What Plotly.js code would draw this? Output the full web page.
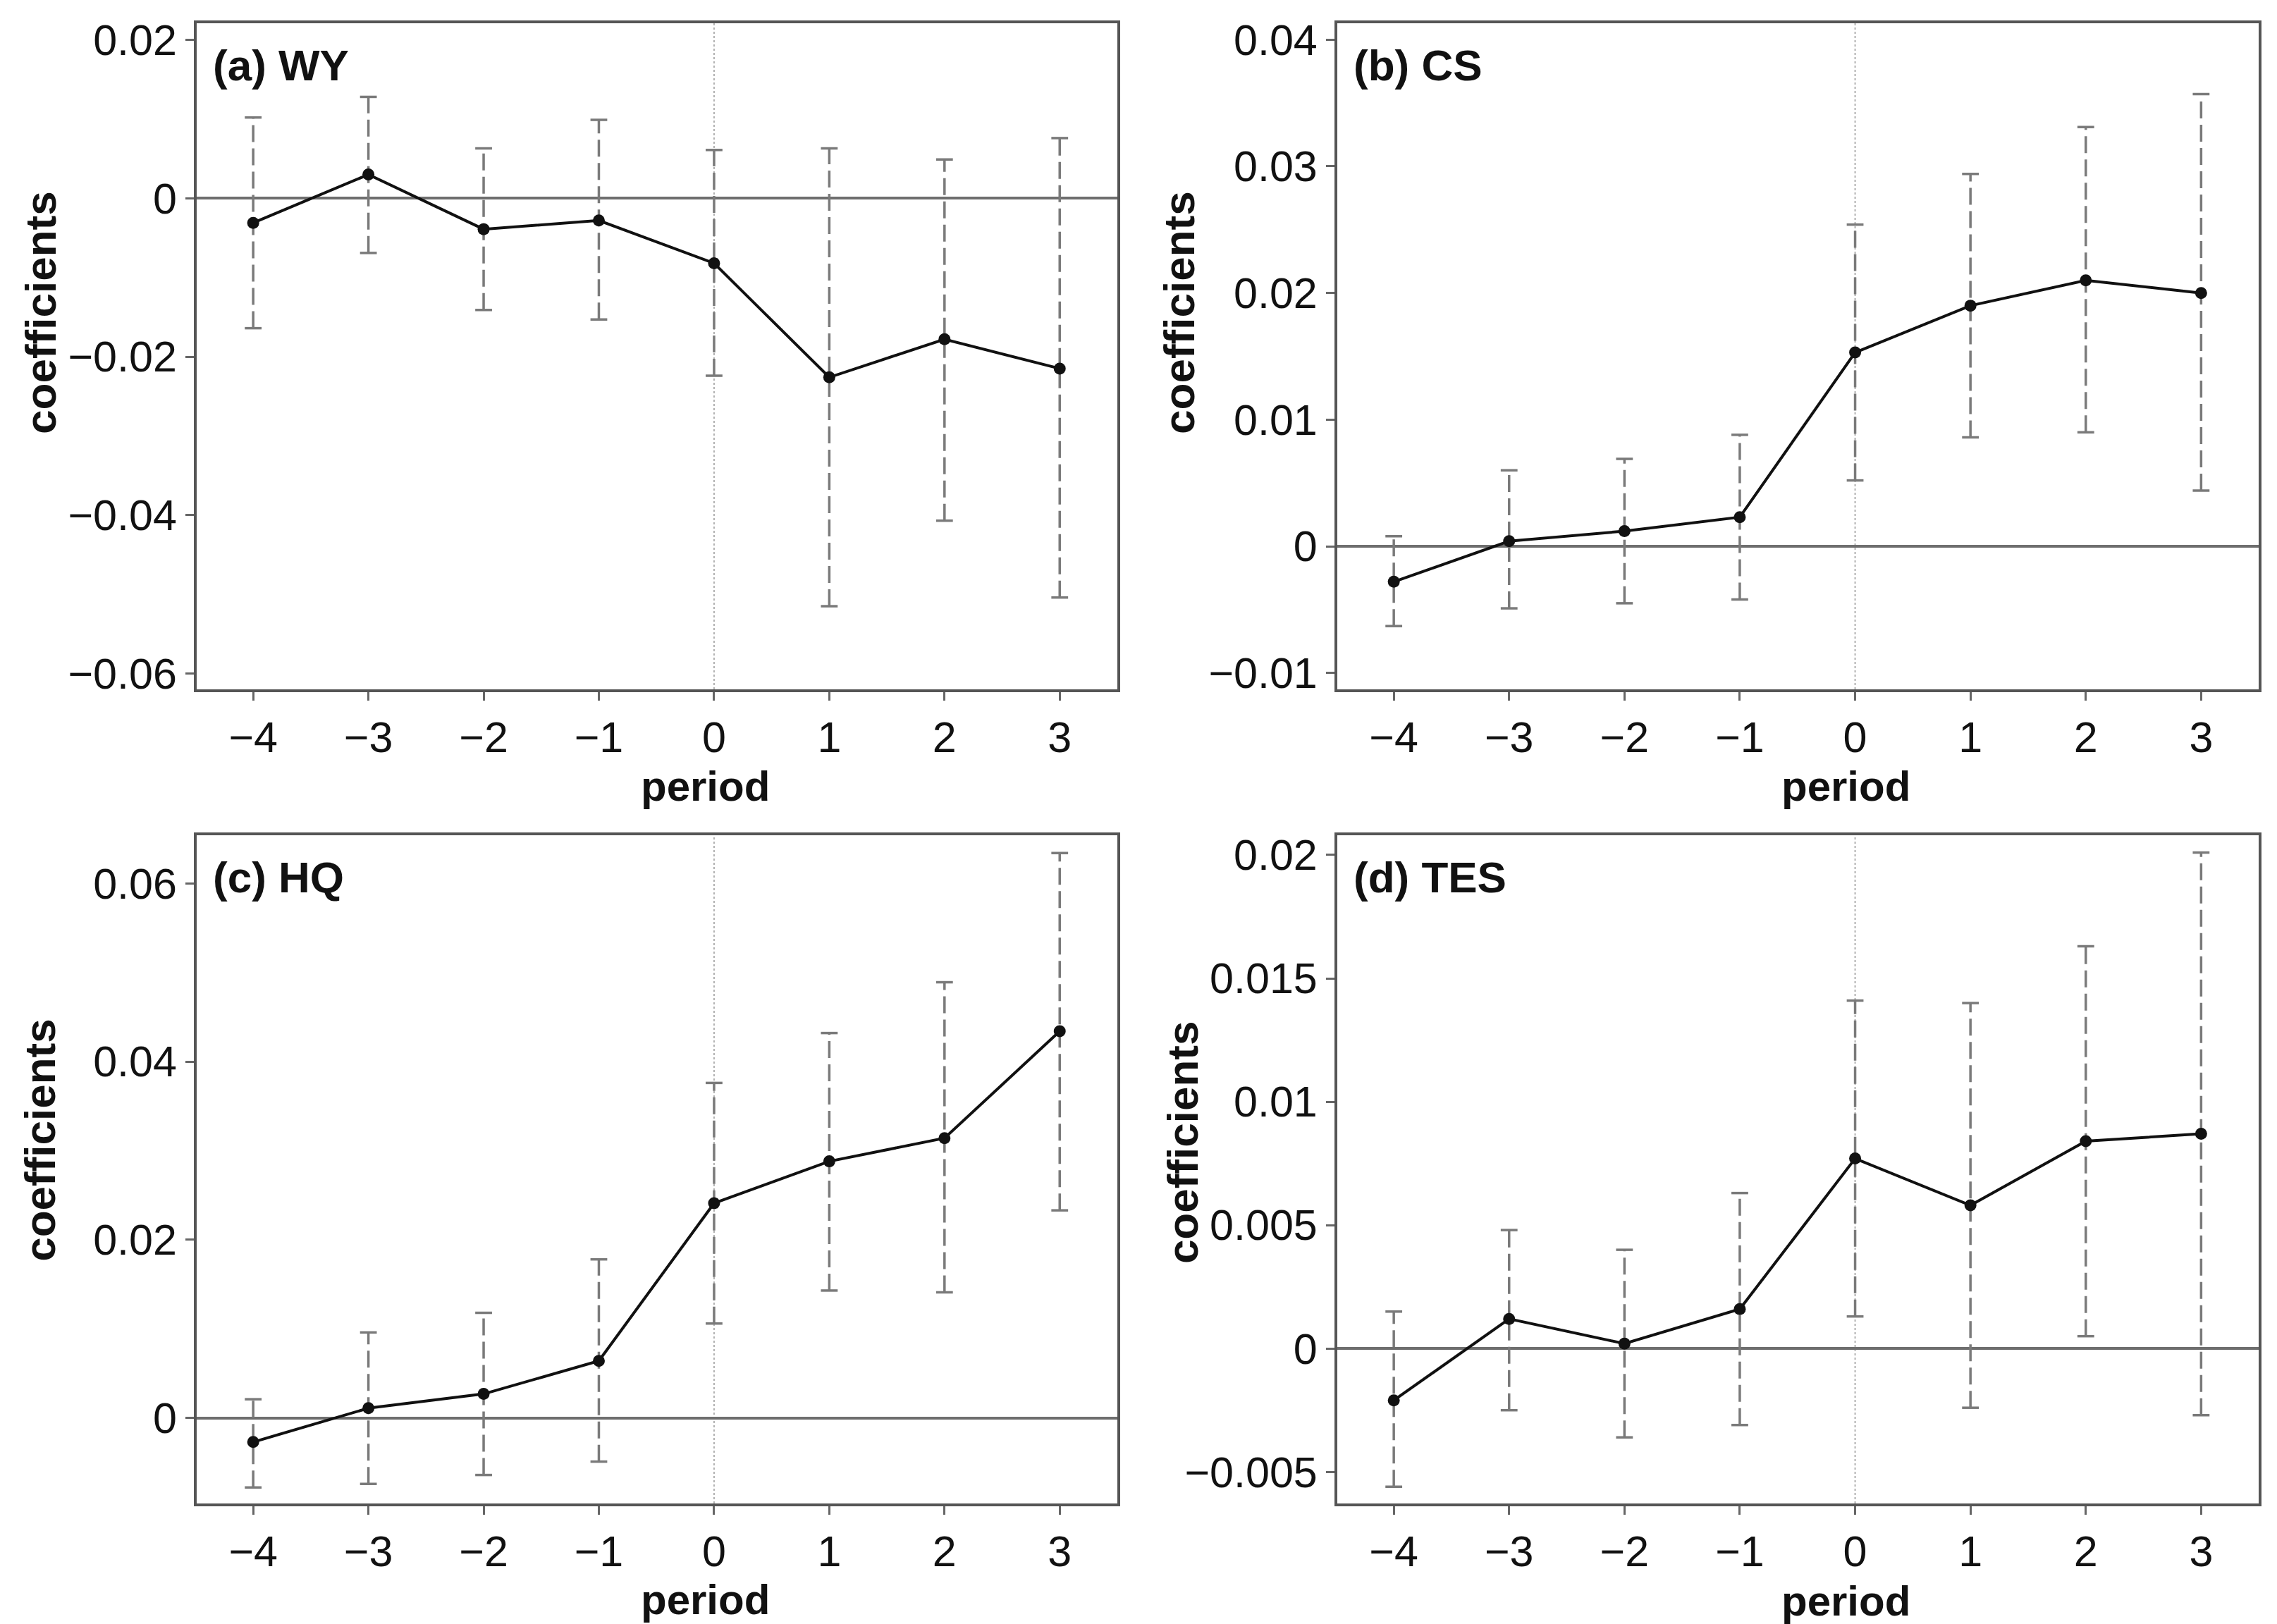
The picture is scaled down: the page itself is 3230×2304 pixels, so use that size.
<!DOCTYPE html>
<html>
<head>
<meta charset="utf-8">
<script src="https://cdn.plot.ly/plotly-3.0.1.min.js"></script>
<style>
  body { margin: 0; background: #fff; }
  #chart { width: 3230px; height: 2304px; }
</style>
</head>
<body>
<div id="chart"></div>
<script>
// event-study periods
const periods = [-4, -3, -2, -1, 0, 1, 2, 3];

// (a) WY
const wyCoef  = [-0.0031, 0.0030, -0.0039, -0.0028, -0.0082, -0.0226, -0.0178, -0.0215];
const wyUpper = [0.0102, 0.0128, 0.0063, 0.0099, 0.0061, 0.0063, 0.0049, 0.0076];
const wyLower = [-0.0164, -0.0069, -0.0141, -0.0153, -0.0224, -0.0515, -0.0407, -0.0504];

// (b) CS
const csCoef  = [-0.0028, 0.0004, 0.0012, 0.0023, 0.0153, 0.0190, 0.0210, 0.0200];
const csUpper = [0.0008, 0.0060, 0.0069, 0.0088, 0.0254, 0.0294, 0.0331, 0.0357];
const csLower = [-0.0063, -0.0049, -0.0045, -0.0042, 0.0052, 0.0086, 0.0090, 0.0044];

// (c) HQ
const hqCoef  = [-0.0027, 0.0011, 0.0027, 0.0064, 0.0241, 0.0288, 0.0314, 0.0434];
const hqUpper = [0.0021, 0.0096, 0.0118, 0.0178, 0.0376, 0.0432, 0.0489, 0.0634];
const hqLower = [-0.0078, -0.0074, -0.0064, -0.0049, 0.0106, 0.0143, 0.0141, 0.0233];

// (d) TES
const tesCoef  = [-0.0021, 0.0012, 0.0002, 0.0016, 0.0077, 0.0058, 0.0084, 0.0087];
const tesUpper = [0.0015, 0.0048, 0.0040, 0.0063, 0.0141, 0.0140, 0.0163, 0.0201];
const tesLower = [-0.0056, -0.0025, -0.0036, -0.0031, 0.0013, -0.0024, 0.0005, -0.0027];

// tick labels
const xTickVals = [-4, -3, -2, -1, 0, 1, 2, 3];
const xTickText = ['\u22124', '\u22123', '\u22122', '\u22121', '0', '1', '2', '3'];
const wyTickVals = [-0.06, -0.04, -0.02, 0, 0.02];
const wyTickText = ['\u22120.06', '\u22120.04', '\u22120.02', '0', '0.02'];
const csTickVals = [-0.01, 0, 0.01, 0.02, 0.03, 0.04];
const csTickText = ['\u22120.01', '0', '0.01', '0.02', '0.03', '0.04'];
const hqTickVals = [0, 0.02, 0.04, 0.06];
const hqTickText = ['0', '0.02', '0.04', '0.06'];
const tesTickVals = [-0.005, 0, 0.005, 0.01, 0.015, 0.02];
const tesTickText = ['\u22120.005', '0', '0.005', '0.01', '0.015', '0.02'];

const panelNames = ['(a) WY', '(b) CS', '(c) HQ', '(d) TES'];
const eventPeriod = 0;

const FONT = 'Liberation Sans, Arial, sans-serif';

const panels = [
    { coef: wyCoef, up: wyUpper, lo: wyLower, tv: wyTickVals, tt: wyTickText, range: [-0.062, 0.0221] },
    { coef: csCoef, up: csUpper, lo: csLower, tv: csTickVals, tt: csTickText, range: [-0.0113, 0.0413] },
    { coef: hqCoef, up: hqUpper, lo: hqLower, tv: hqTickVals, tt: hqTickText, range: [-0.0096, 0.0654] },
    { coef: tesCoef, up: tesUpper, lo: tesLower, tv: tesTickVals, tt: tesTickText, range: [-0.00628, 0.0208] }
];

// domains of the four plot boxes (paper fractions)
const xDomains = [[0.0864, 0.4907], [0.5873, 0.992], [0.0864, 0.4907], [0.5873, 0.992]];
const yDomains = [[0.5755, 0.9857], [0.5755, 0.9857], [0.0742, 0.4857], [0.0742, 0.4857]];

// axis title positions (paper)
const yTitlePos = [[0.0176, 0.8077], [0.5176, 0.8077], [0.0176, 0.2982], [0.5192, 0.2964]];
const xTitlePos = [[0.3099, 0.5160], [0.8108, 0.5160], [0.3099, 0.0150], [0.8108, 0.0140]];

const traces = [];
const layout = {
    width: 3230,
    height: 2304,
    margin: { l: 0, r: 0, t: 0, b: 0 },
    paper_bgcolor: '#ffffff',
    plot_bgcolor: '#ffffff',
    showlegend: false,
    font: { family: FONT, color: '#1a1a1a' },
    shapes: [],
    annotations: []
};

panels.forEach(function (p, i) {
    const n = i + 1;
    const xa = n === 1 ? 'x' : 'x' + n;
    const ya = n === 1 ? 'y' : 'y' + n;

    // dashed confidence bars
    const ex = [], ey = [];
    for (let k = 0; k < periods.length; k++) {
        ex.push(periods[k], periods[k], null);
        ey.push(p.lo[k], p.up[k], null);
    }
    traces.push({
        x: ex, y: ey, xaxis: xa, yaxis: ya,
        mode: 'lines', type: 'scatter', hoverinfo: 'skip',
        line: { color: '#7a7a7a', width: 3.5, dash: '24px,9px' }
    });
    // caps
    traces.push({
        x: periods.concat(periods), y: p.up.concat(p.lo), xaxis: xa, yaxis: ya,
        mode: 'markers', type: 'scatter', hoverinfo: 'skip',
        marker: { symbol: 'line-ew', size: 17, line: { color: '#7a7a7a', width: 3.5 } }
    });
    // point estimates
    traces.push({
        x: periods, y: p.coef, xaxis: xa, yaxis: ya,
        mode: 'lines+markers', type: 'scatter',
        line: { color: '#111111', width: 4 },
        marker: { color: '#111111', size: 17 }
    });

    const axisCommon = {
        showline: true, mirror: true, linecolor: '#555555', linewidth: 4,
        ticks: 'outside', ticklen: 12, tickwidth: 3, tickcolor: '#666666',
        showgrid: false,
        tickfont: { family: FONT, size: 61, color: '#111111' }
    };

    layout['xaxis' + (n === 1 ? '' : n)] = Object.assign({}, axisCommon, {
        domain: xDomains[i], anchor: ya,
        range: [-4.49, 3.5],
        tickmode: 'array', tickvals: xTickVals, ticktext: xTickText,
        zeroline: false
    });
    layout['yaxis' + (n === 1 ? '' : n)] = Object.assign({}, axisCommon, {
        domain: yDomains[i], anchor: xa,
        range: p.range,
        tickmode: 'array', tickvals: p.tv, ticktext: p.tt,
        zeroline: true, zerolinecolor: '#6e6e6e', zerolinewidth: 4
    });

    // dotted line at treatment period
    layout.shapes.push({
        type: 'line', xref: xa, yref: ya + ' domain',
        x0: eventPeriod, x1: eventPeriod, y0: 0, y1: 1,
        layer: 'below',
        line: { color: '#b0b0b0', width: 2, dash: 'dot' }
    });

    layout.annotations.push({
        text: '<b>' + panelNames[i] + '</b>',
        xref: xa + ' domain', yref: ya + ' domain',
        x: 0.016, y: 0.937, xanchor: 'left', yanchor: 'middle',
        showarrow: false, font: { family: FONT, size: 62, color: '#111111' }
    });
    layout.annotations.push({
        text: '<b>coefficients</b>', textangle: -90,
        xref: 'paper', yref: 'paper',
        x: yTitlePos[i][0], y: yTitlePos[i][1], xanchor: 'center', yanchor: 'middle',
        showarrow: false, font: { family: FONT, size: 62, color: '#111111' }
    });
    layout.annotations.push({
        text: '<b>period</b>',
        xref: 'paper', yref: 'paper',
        x: xTitlePos[i][0], y: xTitlePos[i][1], xanchor: 'center', yanchor: 'middle',
        showarrow: false, font: { family: FONT, size: 60, color: '#111111' }
    });
});

Plotly.newPlot('chart', traces, layout, { staticPlot: true });
</script>
</body>
</html>
